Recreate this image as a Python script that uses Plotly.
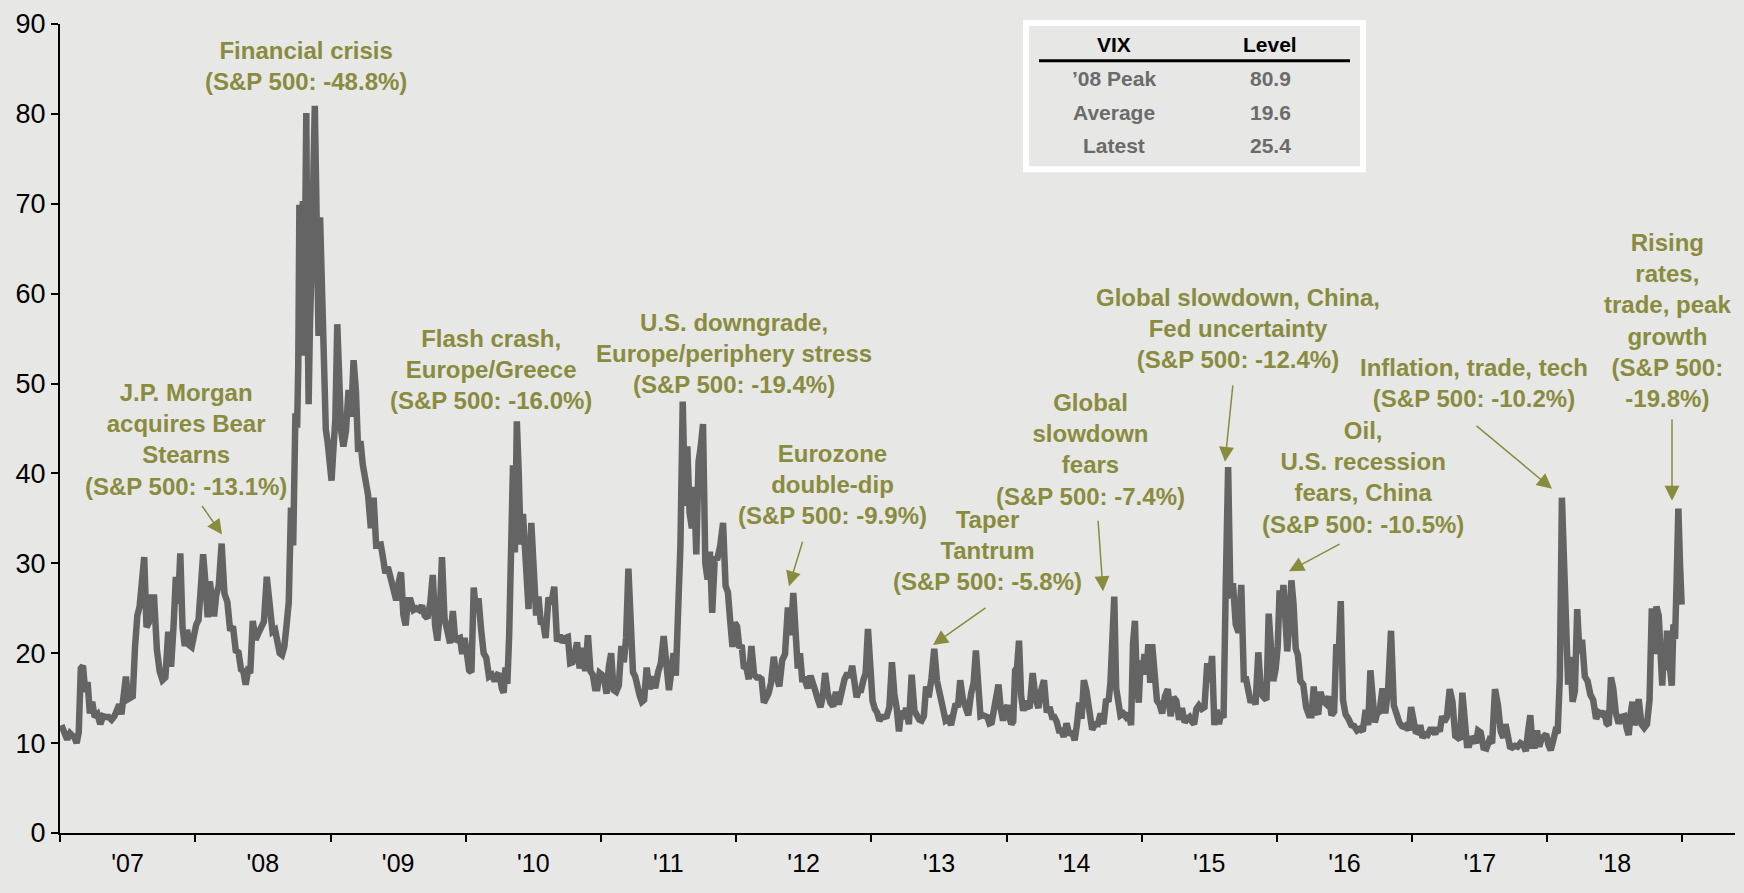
import pandas as pd
import plotly.graph_objects as go

# ---------------- data: VIX level, one list per month ----------------
vix_2007 = [[12.0, 10.9, 10.4, 11.1], [10.9, 10.6, 10.0, 11.2, 18.3], [18.6, 15.7, 16.8, 13.3, 14.6],
            [12.9, 13.2, 12.1, 13.0], [12.9, 12.9, 12.6, 13.0], [13.7, 14.3, 13.2, 15.2, 17.4],
            [14.9, 15.1, 15.2, 20.7, 24.2], [25.2, 28.5, 30.7, 22.9, 23.4], [26.2, 26.2, 20.4, 18.0],
            [17.0, 17.3, 22.4, 18.5], [23.2, 28.5, 25.5, 31.1, 22.9], [20.8, 22.6, 20.9, 20.7, 22.5]]
vix_2008 = [[23.2, 23.7, 27.2, 31.0, 27.8], [24.0, 28.0, 25.0, 24.1, 26.5], [27.5, 32.2, 26.6, 25.7],
            [22.5, 23.0, 20.3, 20.1], [18.2, 18.0, 16.5, 18.0, 17.8], [23.6, 21.5, 22.2, 22.9],
            [23.5, 28.5, 25.0, 22.4], [22.6, 20.7, 20.0, 19.8, 20.7], [23.1, 25.7, 36.2, 32.0, 46.7],
            [45.1, 52.0, 69.9, 55.1, 69.6, 70.3, 53.1, 79.1, 80.1, 59.9],
            [47.7, 56.1, 59.8, 66.3, 74.3, 80.9, 72.7, 61.0, 55.3],
            [68.5, 59.9, 54.3, 44.9, 43.4, 40.0]]
vix_2009 = [[39.2, 42.8, 46.1, 56.6, 47.3, 44.8], [43.0, 44.7, 49.3, 46.3], [52.6, 49.3, 42.4, 43.6, 41.0],
            [39.7, 37.6, 33.9, 37.3], [32.0, 32.0, 32.1, 30.6, 28.9], [29.6, 28.2, 27.0, 25.9],
            [27.9, 29.0, 24.3, 23.1, 25.9], [25.9, 24.8, 25.0, 24.8], [25.3, 24.2, 23.9, 25.6],
            [28.7, 23.1, 21.4, 24.2, 30.7], [23.9, 22.7, 21.1, 24.7], [21.3, 21.6, 21.7, 19.9, 21.7]]
vix_2010 = [[20.0, 18.1, 17.9, 27.3, 24.6], [26.1, 22.7, 20.0, 19.5], [17.4, 17.6, 16.9, 17.6],
            [17.5, 16.1, 15.6, 18.4, 16.6, 22.1], [32.8, 40.9, 31.2, 45.8, 40.1, 32.1],
            [35.5, 28.6, 24.9, 34.5], [30.1, 24.2, 26.3, 23.5, 23.5], [21.7, 26.2, 25.5, 27.4],
            [21.3, 22.0, 21.2, 21.7], [21.8, 18.9, 19.0, 19.9, 21.2], [18.3, 20.6, 18.0, 22.0],
            [18.0, 17.6, 16.1, 16.1, 17.8]]
vix_2011 = [[17.6, 17.1, 15.5, 18.5, 20.0], [15.9, 15.7, 16.4, 20.8], [19.0, 21.7, 29.4, 24.4, 17.9],
            [17.4, 16.0, 15.3, 14.6, 14.8], [18.4, 16.0, 17.4, 16.1], [17.9, 18.9, 21.9, 19.3],
            [15.9, 17.9, 20.0, 17.5, 25.3], [32.0, 48.0, 36.4, 43.0, 35.6], [33.9, 38.5, 31.0, 41.3, 43.0],
            [45.5, 30.0, 28.2, 31.3, 24.5], [30.5, 30.6, 32.0, 34.5], [27.5, 26.8, 23.6, 20.7, 23.4]]
vix_2012 = [[23.0, 20.6, 20.9, 18.3, 18.5], [17.1, 20.8, 17.6, 17.3], [17.3, 17.1, 14.5, 15.0, 15.5],
            [16.7, 19.6, 17.4, 16.3], [19.2, 19.9, 25.1, 22.0], [26.7, 21.2, 18.3, 20.0, 17.1],
            [17.1, 16.1, 17.5, 16.7], [15.6, 14.7, 14.0, 15.2, 17.8], [15.6, 14.5, 14.1, 15.7],
            [14.3, 16.1, 17.1, 17.8], [17.3, 18.6, 16.4, 15.1, 15.9], [15.9, 17.0, 17.8, 22.7, 18.0]]
vix_2013 = [[14.7, 13.8, 13.4, 12.5, 12.9], [12.9, 13.0, 14.0, 19.0], [15.4, 13.9, 11.3, 13.6, 12.7],
            [13.9, 12.1, 17.6, 13.6], [12.9, 12.6, 12.5, 13.0, 16.3], [15.1, 17.2, 20.5, 16.9],
            [14.9, 14.0, 12.5, 12.7], [12.0, 13.4, 14.4, 14.0, 17.0], [15.0, 14.2, 13.1, 15.5],
            [16.7, 20.3, 15.7, 13.0, 13.1], [12.9, 12.9, 12.2, 12.3, 13.7], [15.4, 16.5, 13.8, 12.5, 13.7]]
vix_2014 = [[14.2, 12.9, 12.1, 12.4, 18.1, 18.4], [21.4, 15.3, 13.6, 14.7, 14.0], [14.1, 17.8, 15.0, 13.9],
            [15.9, 17.0, 13.4, 14.0], [12.9, 12.9, 12.4, 11.4, 11.4], [10.7, 12.2, 10.9, 11.3],
            [10.3, 12.1, 14.5, 12.7, 17.0], [15.8, 13.2, 11.5, 12.1], [12.1, 13.3, 12.1, 14.9],
            [14.6, 16.7, 21.2, 26.3, 16.1, 14.0], [13.1, 13.3, 12.9, 13.3],
            [12.0, 21.1, 23.6, 16.5, 14.5, 19.2]]
vix_2015 = [[17.8, 19.9, 17.6, 21.0, 16.7, 21.0], [17.3, 14.7, 14.3, 13.3], [15.2, 16.0, 13.0, 15.1],
            [14.7, 12.6, 13.9, 12.3], [12.7, 12.9, 12.4, 12.1, 13.8], [14.2, 13.8, 14.0, 18.9],
            [16.8, 19.7, 12.0, 13.7, 12.1], [13.4, 12.8, 28.0, 40.7, 26.1], [27.8, 23.2, 22.3, 27.6],
            [17.1, 17.1, 15.1, 14.5, 15.1], [14.3, 20.1, 15.5, 15.1], [14.8, 24.4, 20.7, 16.9, 18.2]]
vix_2016 = [[20.7, 27.0, 24.4, 27.6, 22.3, 20.2], [23.4, 28.1, 25.4, 20.5, 19.8], [16.9, 16.5, 14.0, 13.1],
            [13.1, 16.3, 13.6, 13.2, 15.7], [14.7, 14.4, 15.2, 13.1], [13.5, 21.0, 19.4, 25.8, 14.8],
            [13.2, 12.7, 12.0, 11.9], [11.4, 11.6, 11.3, 13.7], [12.0, 18.1, 15.4, 12.3, 13.3],
            [13.5, 16.1, 13.3, 16.2], [22.5, 14.2, 12.9, 12.3], [11.9, 11.8, 12.0, 11.4, 14.0]]
vix_2017 = [[12.9, 11.3, 11.2, 12.0, 10.6], [11.0, 10.9, 11.5, 11.5], [11.0, 11.7, 11.3, 13.0, 12.4],
            [12.9, 16.0, 14.6, 10.8], [10.6, 10.4, 15.6, 12.0, 9.8], [9.8, 10.7, 10.4, 10.0, 11.4],
            [11.2, 9.5, 9.4, 10.3], [10.0, 16.0, 14.3, 11.3], [10.6, 12.1, 10.2, 9.6, 9.5],
            [9.7, 9.6, 10.0, 9.8], [9.1, 11.3, 13.1, 9.7, 9.7], [11.4, 9.6, 10.5, 10.9, 11.0]]
vix_2018 = [[9.8, 9.2, 10.2, 11.3, 11.1], [17.3, 37.3, 29.1, 19.5, 16.5], [19.6, 14.6, 15.8, 24.9, 20.0],
            [21.5, 17.4, 16.9, 15.4], [14.8, 12.7, 13.4, 13.2], [13.5, 12.2, 12.0, 17.3, 16.1],
            [13.4, 12.2, 12.9, 13.0], [11.6, 10.9, 13.2, 14.6, 12.0, 12.9], [14.9, 12.1, 11.7, 12.1],
            [14.8, 25.0, 19.9, 25.2, 24.2], [19.3, 16.4, 20.5, 18.1, 22.5, 21.5, 18.1],
            [16.4, 23.2, 21.6, 28.4, 36.1, 30.0, 25.4]]

year_series = {2007: vix_2007, 2008: vix_2008, 2009: vix_2009, 2010: vix_2010,
               2011: vix_2011, 2012: vix_2012, 2013: vix_2013, 2014: vix_2014,
               2015: vix_2015, 2016: vix_2016, 2017: vix_2017, 2018: vix_2018}

table_labels = ["\u201908 Peak", "Average", "Latest"]
table_levels = ["80.9", "19.6", "25.4"]

events = [
    "Financial crisis<br>(S&P 500: -48.8%)",
    "J.P. Morgan<br>acquires Bear<br>Stearns<br>(S&P 500: -13.1%)",
    "Flash crash,<br>Europe/Greece<br>(S&P 500: -16.0%)",
    "U.S. downgrade,<br>Europe/periphery stress<br>(S&P 500: -19.4%)",
    "Eurozone<br>double-dip<br>(S&P 500: -9.9%)",
    "Taper<br>Tantrum<br>(S&P 500: -5.8%)",
    "Global<br>slowdown<br>fears<br>(S&P 500: -7.4%)",
    "Global slowdown, China,<br>Fed uncertainty<br>(S&P 500: -12.4%)",
    "Oil,<br>U.S. recession<br>fears, China<br>(S&P 500: -10.5%)",
    "Inflation, trade, tech<br>(S&P 500: -10.2%)",
    "Rising<br>rates,<br>trade, peak<br>growth<br>(S&P 500:<br>-19.8%)",
]

# ---------------- build series (values spread evenly within their month) ----------------
dates, values = [], []
for yr, months in year_series.items():
    for m, vals in enumerate(months, start=1):
        start = pd.Timestamp(yr, m, 1)
        end = start + pd.offsets.MonthBegin(1)
        span = end - start
        k = len(vals)
        for i, v in enumerate(vals):
            dates.append(start + span * ((i + 0.5) / k))
            values.append(v)

# ---------------- layout helpers (pixel -> paper) ----------------
W, H = 1744, 893
PL, PR, PT, PB = 60, 1735, 20, 833


def fx(px):
    return (px - PL) / (PR - PL)


def fy(py):
    return (PB - py) / (PB - PT)


OLIVE = "#898c3e"
BG = "#e7e7e5"
FONT = "Liberation Sans, Arial, Helvetica, sans-serif"

fig = go.Figure()
fig.add_trace(go.Scatter(x=dates, y=values, mode="lines",
                         line=dict(color="#646464", width=6.5),
                         hoverinfo="skip", showlegend=False))

annotations = []
text_pos = [(306, 62), (186, 438), (491, 367), (734, 351), (832, 483), (987, 549),
            (1090, 448), (1238, 326), (1363, 476), (1474, 381), (1667, 318)]
for txt, (cx, cy) in zip(events, text_pos):
    annotations.append(dict(text="<b>" + txt + "</b>", x=fx(cx), y=fy(cy),
                            xref="paper", yref="paper", xanchor="center", yanchor="middle",
                            showarrow=False, align="center",
                            font=dict(family=FONT, size=24, color=OLIVE)))

# arrows: (tail x, tail y, tip x, tip y) in px
arrows = [(201, 503, 222, 533), (803, 539, 789, 585), (987, 606, 933, 644),
          (1098, 518, 1103, 590), (1233, 382, 1225, 460), (1341, 542, 1289, 570),
          (1475, 423, 1552, 487), (1672, 416, 1672, 499)]
for tx, ty, hx, hy in arrows:
    annotations.append(dict(text="", x=fx(hx), y=fy(hy), xref="paper", yref="paper",
                            ax=tx - hx, ay=ty - hy, showarrow=True,
                            arrowhead=2, arrowsize=2, arrowwidth=1.5, arrowcolor=OLIVE))


# table
def cell(text, cx, cy, color):
    return dict(text="<b>" + text + "</b>", x=fx(cx), y=fy(cy), xref="paper", yref="paper",
                xanchor="center", yanchor="middle", showarrow=False,
                font=dict(family=FONT, size=21, color=color))


annotations.append(cell("VIX", 1114, 41, "black"))
annotations.append(cell("Level", 1270, 41, "black"))
for i, (lab, lev) in enumerate(zip(table_labels, table_levels)):
    yy = 75 + i * 33.5
    annotations.append(cell(lab, 1114, yy, "#6b6b6b"))
    annotations.append(cell(lev, 1270, yy, "#6b6b6b"))

shapes = [
    dict(type="rect", xref="paper", yref="paper", x0=fx(1026), x1=fx(1363), y0=fy(166), y1=fy(19),
         line=dict(color="white", width=6), fillcolor=BG, layer="below"),
    dict(type="line", xref="paper", yref="paper", x0=fx(1039), x1=fx(1350), y0=fy(57), y1=fy(57),
         line=dict(color="black", width=3)),
]

fig.update_layout(
    width=W, height=H,
    margin=dict(l=PL, r=W - PR, t=PT, b=H - PB),
    paper_bgcolor=BG, plot_bgcolor=BG,
    font=dict(family=FONT, color="black"),
    annotations=annotations, shapes=shapes,
    showlegend=False,
)
fig.update_xaxes(type="date", range=["2007-01-01", "2019-05-23"],
                 tick0="2007-01-01", dtick="M12", tickformat="'%y", ticklabelmode="period",
                 ticks="outside", ticklen=7, tickwidth=2, tickcolor="black",
                 showline=True, linecolor="black", linewidth=2, showgrid=False, zeroline=False,
                 tickfont=dict(size=25, color="black", family=FONT))
fig.update_yaxes(range=[0, 90], dtick=10, ticks="outside", ticklen=7, tickwidth=2,
                 tickcolor="black", showline=True, linecolor="black", linewidth=2,
                 showgrid=False, zeroline=False,
                 tickfont=dict(size=27, color="black", family=FONT))

fig.write_html("out.html", config={"displayModeBar": False},
               post_script="document.body.style.margin='0px';document.body.style.overflow='hidden';")
